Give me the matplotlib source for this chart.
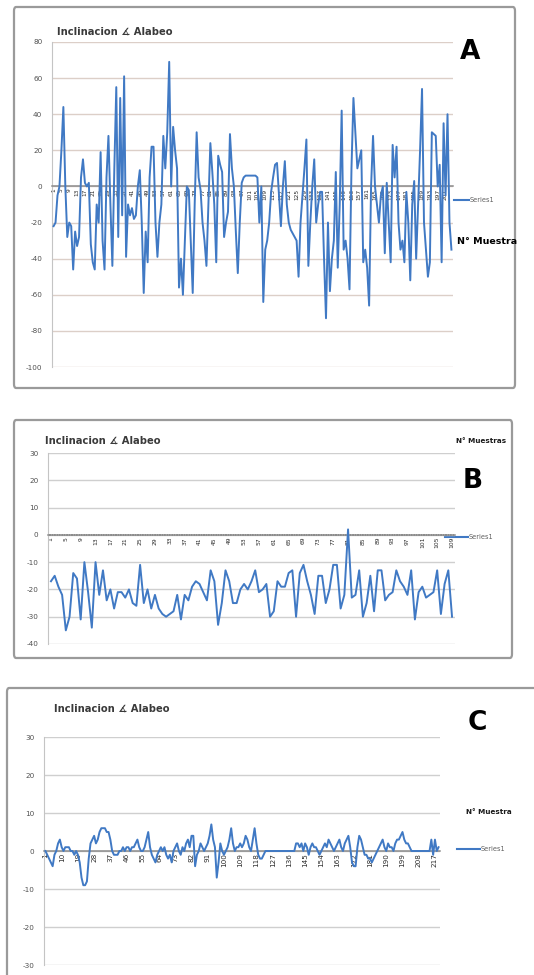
import matplotlib
matplotlib.use("Agg")
import matplotlib.pyplot as plt
from matplotlib.patches import FancyBboxPatch

# ---------------- data ----------------
title_text = "Inclinacion \u2221 Alabeo"
series_name = "Series1"
xaxis_title_A = "N\u00b0 Muestra"
xaxis_title_B = "N\u00b0 Muestras"
xaxis_title_C = "N\u00b0 Muestra"

values_A = [
    -22, -20, -5, 0, 20, 44, 0, -28, -20, -22,
    -46, -25, -33, -28, 5, 15, 2, 0, 2, -32,
    -42, -46, -10, -20, 19, -30, -46, 5, 28, -10,
    -44, 10, 55, -28, 49, -16, 61, -39, -10, -16,
    -12, -18, -16, 0, 9, -20, -59, -25, -42, 5,
    22, 22, -20, -39, -20, -10, 28, 10, 30, 69,
    0, 33, 20, 10, -56, -40, -60, -30, 0, -2,
    -30, -59, -10, 30, 5, -2, -20, -30, -44, -10,
    24, 8, -10, -42, 17, 12, 8, -28, -20, -14,
    29, 10, 0, -25, -48, -20, 2, 5, 6, 6,
    6, 6, 6, 6, 5, -20, 0, -64, -35, -30,
    -20, -3, 5, 12, 13, -5, -22, 0, 14, -10,
    -20, -24, -26, -28, -30, -50, -20, -5, 10, 26,
    -44, -20, 0, 15, -20, -10, -3, -3, -40, -73,
    -20, -58, -40, -30, 8, -45, -10, 42, -35, -30,
    -40, -57, 10, 49, 30, 10, 15, 20, -42, -35,
    -45, -66, 0, 28, 0, -10, -20, -5, 0, -37,
    2, -20, -42, 23, 5, 22, -20, -35, -30, -42,
    -3, -20, -52, -10, 3, -40, -10, 20, 54, -20,
    -35, -50, -42, 30, 29, 28, 0, 12, -42, 35,
    -5, 40, -20, -35,
]

values_B = [
    -17, -15, -19, -22, -35, -30, -14, -16, -31, -10,
    -21, -34, -10, -22, -13, -24, -20, -27, -21, -21,
    -23, -20, -25, -26, -11, -25, -20, -27, -22, -27,
    -29, -30, -29, -28, -22, -31, -22, -24, -19, -17,
    -18, -21, -24, -13, -17, -33, -25, -13, -17, -25,
    -25, -20, -18, -20, -17, -13, -21, -20, -18, -30,
    -28, -17, -19, -19, -14, -13, -30, -14, -11, -17,
    -22, -29, -15, -15, -25, -20, -11, -11, -27, -22,
    2, -23, -22, -13, -30, -25, -15, -28, -13, -13,
    -24, -22, -21, -13, -17, -19, -22, -13, -31, -21,
    -19, -23, -22, -21, -13, -29, -18, -13, -30,
]

values_C = [
    0, -1, -2, -3, -4, -1, 0, 2, 3, 1,
    0, 1, 1, 1, 0, 0, -1, 0, -1, -3,
    -7, -9, -9, -8, -2, 2, 3, 4, 2, 3,
    5, 6, 6, 6, 5, 5, 3, 0, -1, -1,
    -1, 0, 0, 1, 0, 1, 1, 0, 1, 1,
    2, 3, 1, 0, 0, 1, 3, 5, 1, -1,
    -2, -3, -1, 0, 1, 0, 1, -1, -2, -1,
    -3, 0, 1, 2, 0, -1, 1, 0, 2, 3,
    1, 4, 4, -4, -1, 0, 2, 1, 0, 1,
    2, 4, 7, 3, 1, -7, -3, 2, 0, -1,
    0, 1, 3, 6, 2, 0, 1, 1, 2, 1,
    2, 4, 3, 1, 0, 3, 6, 2, -1, -2,
    -2, -1, 0, 0, 0, 0, 0, 0, 0, 0,
    0, 0, 0, 0, 0, 0, 0, 0, 0, 2,
    2, 1, 2, 0, 2, 1, -1, 1, 2, 1,
    1, 0, -1, 0, 1, 2, 1, 3, 2, 1,
    0, 1, 2, 3, 1, 0, 2, 3, 4, 1,
    -3, -4, -4, 1, 4, 3, 1, -1, -1, -2,
    -2, -3, -2, -1, 0, 1, 2, 3, 1, 0,
    2, 1, 1, 0, 2, 3, 3, 4, 5, 3,
    2, 2, 1, 0, 0, 0, 0, 0, 0, 0,
    0, 0, 0, 0, 3, -1, 3, 0, 1,
]

yticks_A = [80, 60, 40, 20, 0, -20, -40, -60, -80, -100]
yticks_B = [30, 20, 10, 0, -10, -20, -30, -40]
yticks_C = [30, 20, 10, 0, -10, -20, -30]
label_step_A = 4
label_step_B = 4
label_step_C = 9
panel_letters = ["A", "B", "C"]

# ---------------- styling ----------------
W, H = 534, 975
fig = plt.figure(figsize=(W / 100, H / 100), dpi=100)
fig.patch.set_facecolor("white")

LINE = "#4079c4"
GRID_A = "#dccfc8"
GRID = "#cfcfcf"
TXT = "#505050"


def fx(px):
    return px / W


def fy(py):
    return 1 - py / H


def frame(x0, y0, x1, y1):
    p = FancyBboxPatch((fx(x0), fy(y1)), fx(x1) - fx(x0), fy(y0) - fy(y1),
                       boxstyle="round,pad=0,rounding_size=0.004",
                       transform=fig.transFigure, facecolor="none",
                       edgecolor="#9a9a9a", linewidth=1.6, zorder=-5)
    fig.patches.append(p)


def panel(rect_px, values, yticks, step, gridc, lbl_size, line_w, zero_style="-"):
    x0, y0, x1, y1 = rect_px
    ax = fig.add_axes([fx(x0), fy(y1), fx(x1) - fx(x0), fy(y0) - fy(y1)])
    ax.set_zorder(2)
    ax.patch.set_visible(False)
    n = len(values)
    xs = list(range(n))
    ax.plot(xs, values, color=LINE, lw=line_w, solid_joinstyle="round", zorder=3)
    ax.set_xlim(-0.8, n - 0.2)
    ax.set_ylim(min(yticks), max(yticks))
    ax.set_yticks(yticks)
    ax.set_yticklabels([str(t) for t in yticks])
    ax.yaxis.grid(True, color=gridc, lw=1.0)
    ax.set_axisbelow(True)
    for s in ["top", "right"]:
        ax.spines[s].set_visible(False)
    ax.spines["left"].set_color("#c4c4c4")
    ax.spines["bottom"].set_position(("data", 0))
    ax.spines["bottom"].set_color("#8c8c8c")
    ax.spines["bottom"].set_linewidth(1.1)
    ax.spines["bottom"].set_linestyle(zero_style)
    ticks = list(range(0, n, step))
    ax.set_xticks(ticks)
    ax.set_xticklabels([str(t + 1) for t in ticks])
    ax.tick_params(axis="x", length=0, labelsize=lbl_size, labelrotation=90,
                   labelcolor="#2a2a2a", pad=1.5)
    ax.tick_params(axis="y", length=0, labelsize=5.2, labelcolor=TXT, pad=7)
    return ax


# Panel frames
frame(14, 7, 515, 388)
frame(14, 420, 512, 658)
frame(7, 688, 545, 985)

# Panels
axA = panel((52, 42, 453, 367), values_A, yticks_A, label_step_A, GRID_A, 4.2, 1.4)
axB = panel((48, 453, 455, 644), values_B, yticks_B, label_step_B, GRID, 4.3, 1.4,
            zero_style=(0, (1, 0.6)))
axC = panel((44, 737, 440, 965), values_C, yticks_C, label_step_C, GRID, 5.2, 1.4)

# Titles
title_kw = dict(fontsize=7.2, fontweight="bold", color="#3a3a3a",
                transform=fig.transFigure, va="center", ha="left")
fig.text(fx(57), fy(32), title_text, **title_kw)
fig.text(fx(45), fy(441), title_text, **title_kw)
fig.text(fx(54), fy(709), title_text, **title_kw)

# Panel letters
letter_kw = dict(fontsize=19, fontweight="bold", color="black",
                 transform=fig.transFigure, va="center", ha="center")
fig.text(fx(470), fy(52), panel_letters[0], **letter_kw)
fig.text(fx(473), fy(481), panel_letters[1], **letter_kw)
fig.text(fx(477), fy(723), panel_letters[2], **letter_kw)

# Axis titles (category axis)
fig.text(fx(457), fy(242), xaxis_title_A, fontsize=6.8, fontweight="bold",
         color="black", transform=fig.transFigure, va="center", ha="left")
fig.text(fx(456), fy(441), xaxis_title_B, fontsize=5.2, fontweight="bold",
         color="#1a1a1a", transform=fig.transFigure, va="center", ha="left")
fig.text(fx(466), fy(812), xaxis_title_C, fontsize=5.2, fontweight="bold",
         color="#1a1a1a", transform=fig.transFigure, va="center", ha="left")


# Legends (line sample + text)
def legend(lx0, lx1, ly, tx):
    fig.add_artist(plt.Line2D([fx(lx0), fx(lx1)], [fy(ly), fy(ly)],
                              color=LINE, lw=1.5, transform=fig.transFigure))
    fig.text(fx(tx), fy(ly), series_name, fontsize=4.8, color="#606060",
             transform=fig.transFigure, va="center", ha="left")


legend(454, 469, 200, 470)
legend(445, 468, 537, 469)
legend(457, 480, 849, 481)

fig.savefig("out.png", dpi=100, facecolor="white")
